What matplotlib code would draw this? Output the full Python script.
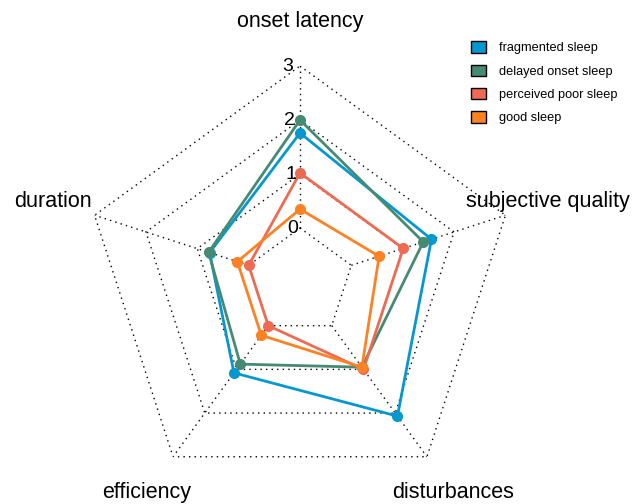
import matplotlib.pyplot as plt
import numpy as np
from matplotlib.patches import Patch

plt.rcParams['font.family'] = ['Liberation Sans', 'DejaVu Sans']

axes_names = ["onset latency", "subjective quality", "disturbances", "efficiency", "duration"]
groups = ["fragmented sleep", "delayed onset sleep", "perceived poor sleep", "good sleep"]
colors = ["#0598CF", "#478A72", "#EE6A52", "#FD8224"]

fragmented = [1.76, 1.56, 2.07, 1.08, 0.76]
delayed = [2.00, 1.40, 0.95, 0.88, 0.78]
perceived = [1.02, 1.01, 1.00, 0.00, 0.00]
good = [0.35, 0.54, 0.95, 0.22, 0.22]
series = [fragmented, delayed, perceived, good]

ring_values = [0, 1, 2, 3]


def main():
    fig = plt.figure(figsize=(6.34, 5.04), dpi=100)
    ax = fig.add_axes([84 / 634, 6 / 504, 432 / 634, 432 / 504], projection="polar")
    ax.set_theta_offset(np.pi / 2)
    ax.set_theta_direction(-1)
    ax.set_ylim(-1, 3)
    ax.axis("off")

    n = len(axes_names)
    angles = np.linspace(0, 2 * np.pi, n, endpoint=False)
    closed = np.append(angles, angles[0])

    # pentagon grid
    for r in ring_values:
        ax.plot(closed, [r] * (n + 1), color="black", lw=1, ls=(0, (1, 3)), zorder=1)
    for a in angles:
        ax.plot([a, a], [0, 3], color="black", lw=1, ls=(0, (1, 3)), zorder=1)

    for vals, c in zip(series, colors):
        v = np.append(vals, vals[0])
        ax.plot(closed, v, color=c, lw=2, zorder=3)
        ax.plot(angles, vals, "o", color=c, markersize=7, zorder=4)

    for r in ring_values:
        ax.text(-0.03, r, str(r), fontsize=14, ha="right", va="center", zorder=5)

    for a, name in zip(angles, axes_names):
        ax.text(a, 3.82, name, fontsize=15.5, ha="center", va="center")

    handles = [Patch(facecolor=c, edgecolor="black", lw=1) for c in colors]
    fig.legend(handles, groups, loc="upper left", bbox_to_anchor=(465 / 634, 1 - 35 / 504),
               frameon=False, fontsize=9.2, handlelength=1.15, handleheight=1.0,
               labelspacing=0.8, handletextpad=1.0, borderpad=0)

    fig.savefig("out.png", dpi=100)


main()
